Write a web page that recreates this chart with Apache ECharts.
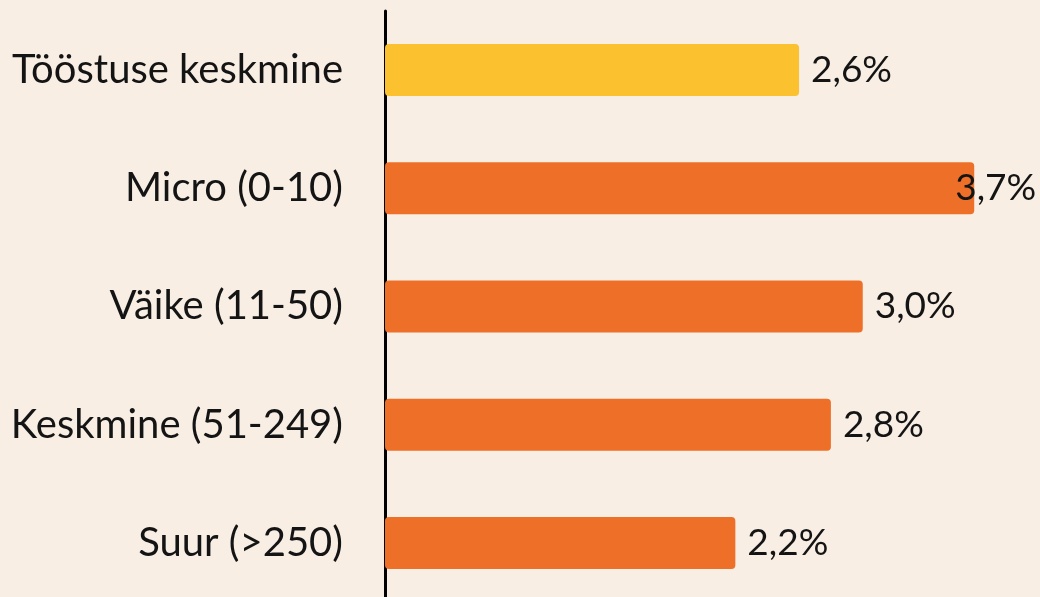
<!DOCTYPE html>
<html><head><meta charset="utf-8">
<script src="https://cdn.jsdelivr.net/npm/echarts@6/dist/echarts.min.js"></script>
<style>html,body{margin:0;padding:0;background:#F8EEE4;overflow:hidden;}#c{width:1040px;height:603px;}</style>
</head><body><div id="c"></div>
<script>
const categories = ["Tööstuse keskmine", "Micro (0-10)", "Väike (11-50)", "Keskmine (51-249)", "Suur (>250)"];
const values = [2.6, 3.7, 3.0, 2.8, 2.2];
const barColors = ["#FCC12E", "#EE7028", "#EE7028", "#EE7028", "#EE7028"];

const font = "Lato, 'Open Sans', sans-serif";
const chart = echarts.init(document.getElementById('c'), null, {renderer: 'canvas'});
const data = values.map((v, i) => {
  const item = {value: v, itemStyle: {color: barColors[i]}};
  if (i === 1) item.label = {offset: [-31, 0]};
  return item;
});
chart.setOption({
  backgroundColor: '#F8EEE4',
  animation: false,
  grid: {left: 385, top: 11, width: 637, height: 591, containLabel: false},
  xAxis: {type: 'value', min: 0, max: 4, show: false},
  yAxis: {
    type: 'category', data: categories, inverse: true,
    axisLine: {show: true, lineStyle: {color: '#000', width: 3}},
    axisTick: {show: false},
    axisLabel: {color: '#141414', fontSize: 40, fontFamily: font, margin: 42}
  },
  series: [{
    type: 'bar', data: data, barWidth: 52,
    itemStyle: {borderRadius: 4},
    label: {show: true, position: 'right', distance: 12, color: '#141414', fontSize: 37, fontFamily: font,
      formatter: p => p.value.toFixed(1).replace('.', ',') + '%'}
  }]
});
</script></body></html>
